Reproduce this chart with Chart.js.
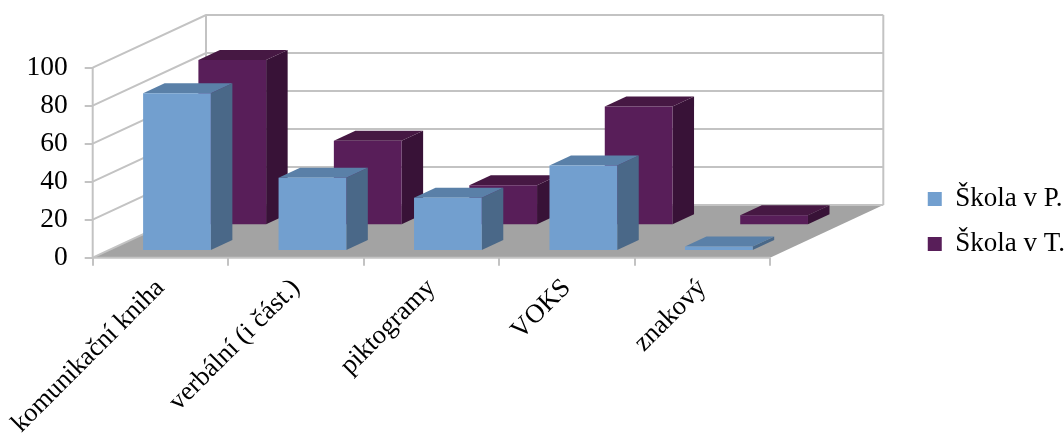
<!DOCTYPE html>
<html>
<head>
<meta charset="utf-8">
<script src="https://cdn.jsdelivr.net/npm/chart.js@4/dist/chart.umd.min.js"></script>
<style>
  html, body { margin: 0; padding: 0; background: #fff; }
  #wrap { width: 1064px; height: 435px; }
</style>
</head>
<body>
<div id="wrap"><canvas id="chart" width="1064" height="435"></canvas></div>
<script>
// --- Data ---
const kategorie = ['komunikační kniha', 'verbální (i část.)', 'piktogramy', 'VOKS', 'znakový'];
const nazvySerii = ['Škola v P.', 'Škola v T.'];
const skolaP = [82.5, 38, 27.5, 44.5, 1.8];
const skolaT = [86.5, 44, 20.5, 62, 4.7];
const yTicks = [0, 20, 40, 60, 80, 100];

// --- Vzhled ---
const FONT = '"Liberation Serif", "Times New Roman", serif';
const HLOUBKA = { dx: 113.3, dy: -52.7 };          // posun zadni steny
const RADY = [ { d0: 0.146, d: 0.19 }, { d0: 0.634, d: 0.19 } ];
const BARVY = [
    { front: '#729fcf', side: '#4a6888', top: '#5a80a8' },
    { front: '#581e59', side: '#381237', top: '#461843' }
];
const MRIZKA = '#c3c3c3';
const PODLAHA = '#a3a3a3';
const PRAVY_OKRAJ = 770;
const PAD_R = -11;

function poly(ctx, body, barva) {
    ctx.beginPath();
    ctx.moveTo(body[0][0], body[0][1]);
    for (let k = 1; k < body.length; k++) ctx.lineTo(body[k][0], body[k][1]);
    ctx.closePath();
    ctx.fillStyle = barva;
    ctx.fill();
}

function cara(ctx, x1, y1, x2, y2) {
    ctx.beginPath();
    ctx.moveTo(x1, y1);
    ctx.lineTo(x2, y2);
    ctx.stroke();
}

// --- 3D plugin ---
const plugin3D = {
    id: 'plugin3D',
    beforeDatasetsDraw(chart) {
        const ctx = chart.ctx;
        const xS = chart.scales.x, yS = chart.scales.y;
        const { left, right } = chart.chartArea;
        const { dx, dy } = HLOUBKA;
        const y0 = yS.getPixelForValue(0);
        const yMax = yS.getPixelForValue(100);

        ctx.save();
        // podlaha
        poly(ctx, [[left, y0], [right, y0], [right + dx, y0 + dy], [left + dx, y0 + dy]], PODLAHA);

        // mrizka na bocni a zadni stene
        ctx.strokeStyle = MRIZKA;
        ctx.lineWidth = 2;
        yTicks.forEach(v => {
            const y = yS.getPixelForValue(v);
            ctx.beginPath();
            ctx.moveTo(left, y);
            ctx.lineTo(left + dx, y + dy);
            ctx.lineTo(right + dx, y + dy);
            ctx.stroke();
        });
        cara(ctx, left + dx, yMax + dy, left + dx, y0 + dy);
        cara(ctx, right + dx, yMax + dy, right + dx, y0 + dy);
        // osy vpredu
        cara(ctx, left, yMax, left, y0);
        cara(ctx, left, y0, right, y0);

        // sloupce - zadni rada prvni
        const serie = [skolaP, skolaT];
        const sirka = xS.width / kategorie.length * 0.5;
        for (let s = serie.length - 1; s >= 0; s--) {
            const { d0, d } = RADY[s];
            const ox = dx * d0, oy = dy * d0, bx = dx * d, by = dy * d;
            const barva = BARVY[s];
            serie[s].forEach((v, i) => {
                const cx = xS.getPixelForValue(i);
                const x0 = cx - sirka / 2 + ox, x1 = cx + sirka / 2 + ox;
                const yb = yS.getPixelForValue(0) + oy;
                const yt = yS.getPixelForValue(v) + oy;
                poly(ctx, [[x1, yt], [x1 + bx, yt + by], [x1 + bx, yb + by], [x1, yb]], barva.side);
                poly(ctx, [[x0, yt], [x1, yt], [x1 + bx, yt + by], [x0 + bx, yt + by]], barva.top);
                poly(ctx, [[x0, yt], [x1, yt], [x1, yb], [x0, yb]], barva.front);
            });
        }
        ctx.restore();
        return false;
    }
};

new Chart(document.getElementById('chart'), {
    type: 'bar',
    data: {
        labels: kategorie,
        datasets: [
            { label: nazvySerii[0], data: skolaP, backgroundColor: BARVY[0].front, borderWidth: 0 },
            { label: nazvySerii[1], data: skolaT, backgroundColor: BARVY[1].front, borderWidth: 0 }
        ]
    },
    options: {
        responsive: false,
        animation: false,
        layout: { padding: { top: 8, right: PAD_R, bottom: 0, left: 0 } },
        plugins: {
            legend: {
                position: 'right',
                labels: {
                    font: { family: FONT, size: 27 },
                    color: '#000',
                    boxWidth: 14,
                    boxHeight: 14,
                    padding: 18
                }
            },
            tooltip: { enabled: false }
        },
        scales: {
            x: {
                grid: { drawOnChartArea: false, tickLength: 8, color: MRIZKA, lineWidth: 2 },
                border: { display: false },
                ticks: {
                    font: { family: FONT, size: 26.5 },
                    color: '#000',
                    minRotation: 45,
                    maxRotation: 45,
                    autoSkip: false,
                    padding: 7
                },
                afterFit(s) { s.height = 435 - 257.7; }
            },
            y: {
                min: 0,
                max: 100,
                grid: { drawOnChartArea: false, tickLength: 8, color: MRIZKA, lineWidth: 2 },
                border: { display: false },
                ticks: {
                    stepSize: 20,
                    font: { family: FONT, size: 27.5 },
                    color: '#000',
                    padding: 17
                },
                afterFit(s) { s.width = 92.7; }
            },
            horniMezera: {
                type: 'linear',
                axis: 'x',
                position: 'top',
                grid: { display: false },
                border: { display: false },
                ticks: { display: false },
                afterFit(s) { s.height = 59.7; }
            },
            pravaMezera: {
                type: 'linear',
                axis: 'y',
                position: 'right',
                grid: { display: false },
                border: { display: false },
                ticks: { display: false },
                afterFit(s) {
                    const lw = s.chart.legend ? s.chart.legend.width : 150;
                    s.width = Math.max(0, 1064 - PAD_R - lw - PRAVY_OKRAJ);
                }
            }
        }
    },
    plugins: [plugin3D]
});
</script>
</body>
</html>
